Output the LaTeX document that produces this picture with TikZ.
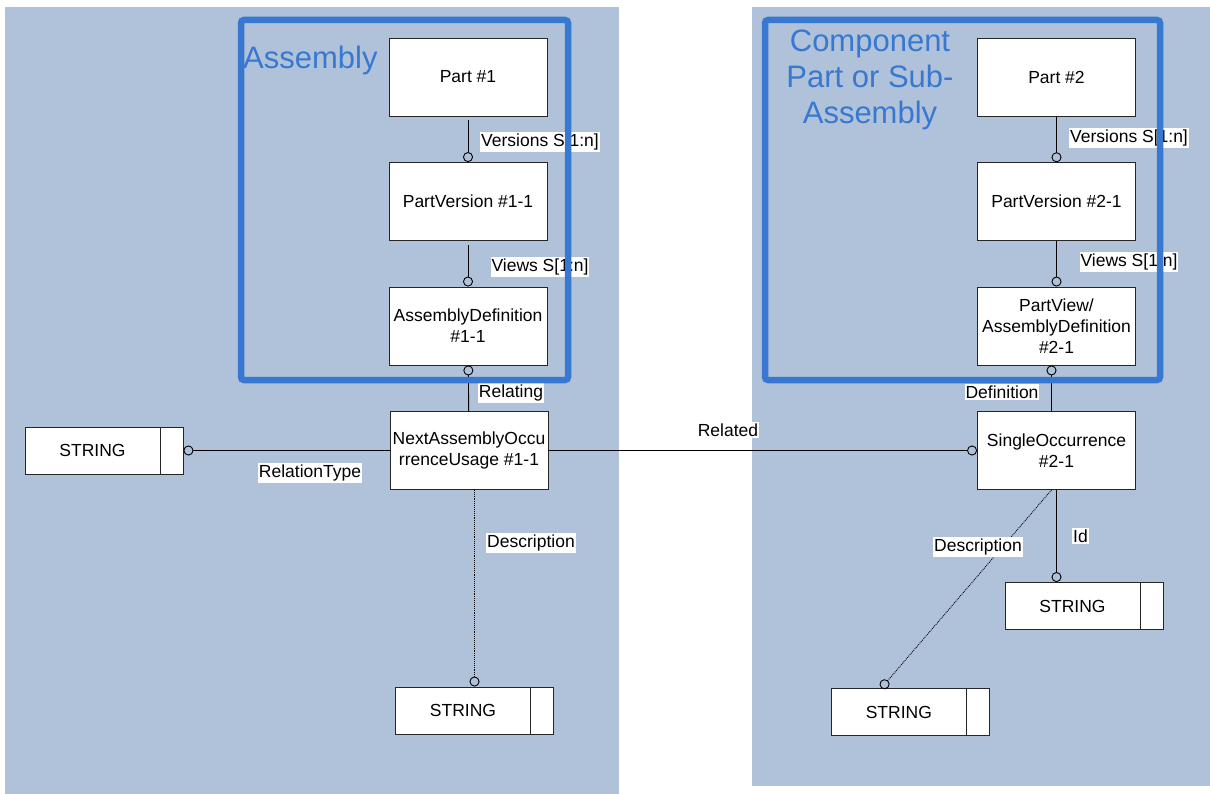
\documentclass[tikz,border=0pt]{standalone}
\usepackage{fontspec}
\setmainfont{Liberation Sans}
\usetikzlibrary{arrows.meta}

\definecolor{panel}{RGB}{176,194,218}
\definecolor{frameblue}{RGB}{56,120,208}

\tikzset{
  entity/.style={draw=black!85, fill=white, line width=0.9pt, minimum width=158pt, minimum height=78pt,
    align=center, inner sep=0pt, font=\fontsize{17.5}{21}\selectfont},
  strbox/.style={draw=black!85, fill=white, line width=0.9pt, minimum width=158pt, minimum height=47pt,
    inner sep=0pt, font=\fontsize{17.5}{21}\selectfont,
    path picture={\draw[line width=0.9pt] ([xshift=-23pt]path picture bounding box.north east) -- ([xshift=-23pt]path picture bounding box.south east);}},
  link/.style={line width=0.9pt, -{Circle[open, length=10pt, width=10pt]}},
  lbl/.style={fill=white, inner xsep=1pt, inner ysep=2pt, font=\fontsize{17.5}{21}\selectfont},
  groupframe/.style={draw=frameblue, line width=6.5pt, rounded corners=3pt},
  grouptitle/.style={text=frameblue, inner sep=0pt, align=center, font=\fontsize{31}{36}\selectfont}
}

\begin{document}
\begin{tikzpicture}[x=1pt, y=-1pt]
	\useasboundingbox (0,0) rectangle (1210,794);
	\fill[white] (0,0) rectangle (1210,794);
	\fill[panel] (5,7) rectangle (619,794);
	\fill[panel] (752,7) rectangle (1210,786);

	% assembly side
	\node[entity] (part1) at (468,77) {Part \#1};
	\node[entity] (pver1) at (468,201.5) {PartVersion \#1-1};
	\node[entity] (adef1) at (468,326) {AssemblyDefinition\\\#1-1};
	\node[entity] (naou) at (469,450.5) {NextAssemblyOccu\\rrenceUsage \#1-1};
	\node[strbox] (strL) at (104,450.5) {STRING\hspace*{23pt}};
	\node[strbox] (strB) at (474.5,710.5) {STRING\hspace*{23pt}};

	% component side
	\node[entity] (part2) at (1056.5,77.3) {Part \#2};
	\node[entity] (pver2) at (1056.5,201.7) {PartVersion \#2-1};
	\node[entity] (pview2) at (1056.5,326) {PartView/\\AssemblyDefinition\\\#2-1};
	\node[entity] (sing) at (1056.5,450.5) {SingleOccurrence\\\#2-1};
	\node[strbox] (strR) at (1084,606) {STRING\hspace*{23pt}};
	\node[strbox] (strD) at (910.3,712) {STRING\hspace*{23pt}};

	\draw[link, shorten <=4pt] (part1) -- (pver1);
	\draw[link, shorten <=4pt] (pver1) -- (adef1);
	\draw[link] (naou) -- (adef1);
	\draw[link] (naou) -- (strL);
	\draw[link, densely dotted] (naou.south -| strB.north) -- (strB.north);
	\draw[link] (naou) -- (sing);

	\draw[link] (part2) -- (pver2);
	\draw[link] (pver2) -- (pview2);
	\draw[link] ([xshift=-5pt]sing.north) -- ([xshift=-5pt]pview2.south);
	\draw[link] (sing.south) -- (sing.south |- strR.north);
	\draw[link, densely dotted] ([xshift=-5pt]sing.south) -- ([xshift=-29pt]strD.north);

	\node[lbl] (lver1) at (540,142) {Versions S[1:n]};
	\node[lbl] (lview1) at (540,267) {Views S[1:n]};
	\node[lbl] (lrel1) at (511,393) {Relating};
	\node[lbl] (ltype) at (310,473) {RelationType};
	\node[lbl] (ldesc1) at (531,543) {Description};
	\node[lbl] (lrel2) at (728,430) {Related};
	\node[lbl] (lver2) at (1129,138) {Versions S[1:n]};
	\node[lbl] (lview2) at (1129,262) {Views S[1:n]};
	\node[lbl] (ldef) at (1002,392) {Definition};
	\node[lbl] (lid) at (1080.5,536) {Id};
	\node[lbl] (ldesc2) at (978,547) {Description};

	\draw[groupframe] (241,20) rectangle (568,380);
	\draw[groupframe] (765,20) rectangle (1160,380);
	\node[grouptitle, anchor=base west] (tasm) at (243,69) {Assembly};
	\node[grouptitle] (tcomp) at (870,80) {Component\\Part or Sub-\\Assembly};
\end{tikzpicture}
\end{document}
